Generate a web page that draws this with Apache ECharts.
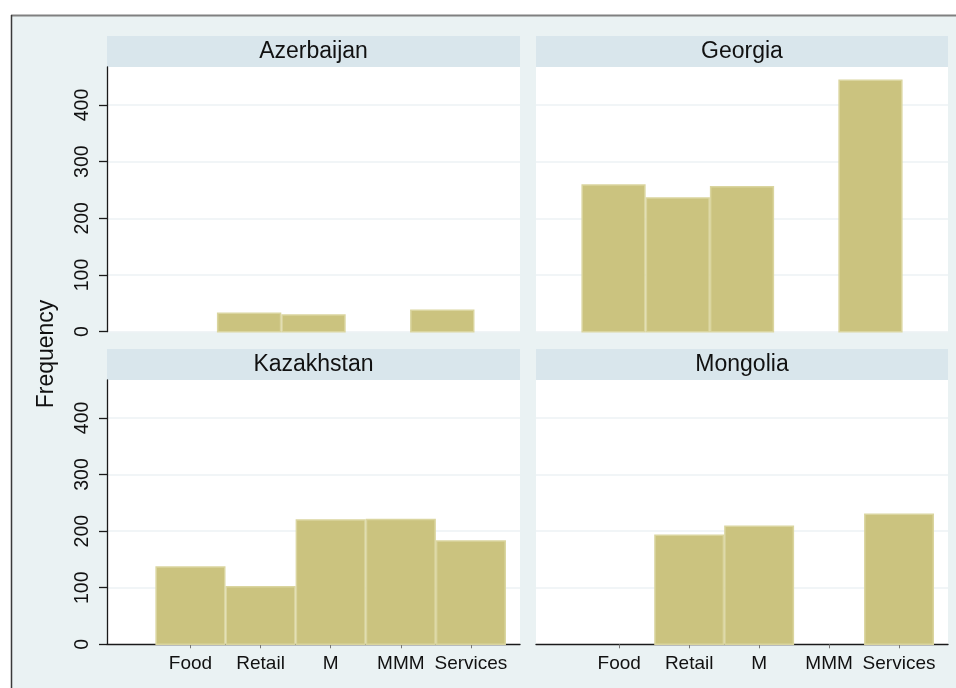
<!DOCTYPE html>
<html>
<head>
<meta charset="utf-8">
<script src="https://cdn.jsdelivr.net/npm/echarts@6/dist/echarts.min.js"></script>
<style>
  html, body { margin: 0; padding: 0; background: #fff; }
  #main { width: 956px; height: 688px; }
</style>
</head>
<body>
<div id="main"></div>
<script>
// sectors on the x axis (positions 1..5)
var sectors = ['Food', 'Retail', 'M', 'MMM', 'Services'];
var yTicks = [0, 100, 200, 300, 400];

// frequencies per country, null = no bar
var azerbaijan = [null, 34, 31, null, 39];
var georgia = [260, 237, 257, null, 445];
var kazakhstan = [138, 103, 221, 222, 184];
var mongolia = [null, 194, 210, null, 231];

var panels = [
  { name: 'Azerbaijan', values: azerbaijan },
  { name: 'Georgia', values: georgia },
  { name: 'Kazakhstan', values: kazakhstan },
  { name: 'Mongolia', values: mongolia }
];

var FONT = '"Liberation Sans", Arial, Helvetica, sans-serif';
var barFill = '#cbc37f';
var barEdge = '#dad59f';
var stripFill = '#d9e6ec';
var outerBg = '#eaf2f3';

// panel boxes
var boxes = [
  { left: 107, top: 67, width: 413, height: 264.7 },
  { left: 536, top: 67, width: 412, height: 264.7 },
  { left: 107, top: 380, width: 413, height: 264.3 },
  { left: 536, top: 380, width: 412, height: 264.3 }
];

var chart = echarts.init(document.getElementById('main'));

var grids = [], xAxes = [], yAxes = [], series = [], graphics = [];

// outer background, border on top and left only
graphics.push({
  type: 'rect', silent: true, z: -10,
  shape: { x: 11, y: 15, width: 960, height: 700 },
  style: { fill: outerBg }
});
graphics.push({
  type: 'line', silent: true, z: -9,
  shape: { x1: 11, y1: 15.5, x2: 956, y2: 15.5 },
  style: { stroke: '#808080', lineWidth: 2 }
});
graphics.push({
  type: 'line', silent: true, z: -9,
  shape: { x1: 11.5, y1: 15, x2: 11.5, y2: 688 },
  style: { stroke: '#3a3a3a', lineWidth: 1.5 }
});

panels.forEach(function (p, i) {
  var b = boxes[i];
  var isTop = i < 2;
  var isLeft = i % 2 === 0;

  grids.push({ left: b.left, top: b.top, width: b.width, height: b.height,
    backgroundColor: '#ffffff', show: true, borderWidth: 0 });

  xAxes.push({
    type: 'value', gridIndex: i,
    min: isTop ? -0.207 : -0.19,
    max: isTop ? 6.207 : 5.70,
    axisLine: { show: !isTop, onZero: false, lineStyle: { color: '#1a1a1a', width: 1.3 } },
    axisTick: { show: !isTop, length: 4, customValues: [1, 2, 3, 4, 5],
      lineStyle: { color: '#777' } },
    axisLabel: {
      show: !isTop, customValues: [1, 2, 3, 4, 5], margin: 10,
      fontFamily: FONT, fontSize: 19, color: '#111',
      formatter: function (v) { return sectors[Math.round(v) - 1] || ''; }
    },
    splitLine: { show: false }
  });

  yAxes.push({
    type: 'value', gridIndex: i, min: 0, max: 467, interval: 100,
    axisLine: { show: isLeft, onZero: false, lineStyle: { color: '#1a1a1a', width: 1.3 } },
    axisTick: { show: isLeft, length: 8, customValues: yTicks,
      lineStyle: { color: '#1a1a1a', width: 1.3 } },
    axisLabel: {
      show: isLeft, rotate: 90, margin: 14, customValues: yTicks,
      fontFamily: FONT, fontSize: 19.5, color: '#111'
    },
    splitLine: { show: true, lineStyle: { color: '#ecf2f4', width: 1.5 } }
  });

  var data = [];
  p.values.forEach(function (v, k) {
    if (v != null) data.push([k + 1, v]);
  });

  series.push({
    type: 'custom', xAxisIndex: i, yAxisIndex: i,
    data: data,
    encode: { x: 0, y: 1 },
    renderItem: function (params, api) {
      var x = api.value(0), y = api.value(1);
      var p0 = api.coord([x - 0.5, y]);
      var p1 = api.coord([x + 0.5, 0]);
      return {
        type: 'rect',
        shape: { x: p0[0] + 0.75, y: p0[1] + 0.75,
          width: p1[0] - p0[0] - 1.5, height: p1[1] - p0[1] - 0.75 },
        style: { fill: barFill, stroke: barEdge, lineWidth: 1.5 }
      };
    }
  });

  // strip header with the country name
  graphics.push({
    type: 'rect', silent: true, z: -5,
    shape: { x: b.left, y: b.top - 31, width: b.width, height: 31 },
    style: { fill: stripFill }
  });
  graphics.push({
    type: 'text', silent: true, z: 5,
    x: b.left + b.width / 2, y: b.top - 15.5,
    style: { text: p.name, fontFamily: FONT, fontSize: 23, fill: '#111',
      align: 'center', verticalAlign: 'middle' }
  });
});

// shared y axis title
graphics.push({
  type: 'text', silent: true, z: 5,
  x: 47, y: 354, rotation: Math.PI / 2,
  style: { text: 'Frequency', fontFamily: FONT, fontSize: 23, fill: '#111',
    align: 'center', verticalAlign: 'middle' }
});

var option = {
  backgroundColor: '#ffffff',
  animation: false,
  grid: grids,
  xAxis: xAxes,
  yAxis: yAxes,
  series: series,
  graphic: { elements: graphics }
};
chart.setOption(option);
</script>
</body>
</html>
